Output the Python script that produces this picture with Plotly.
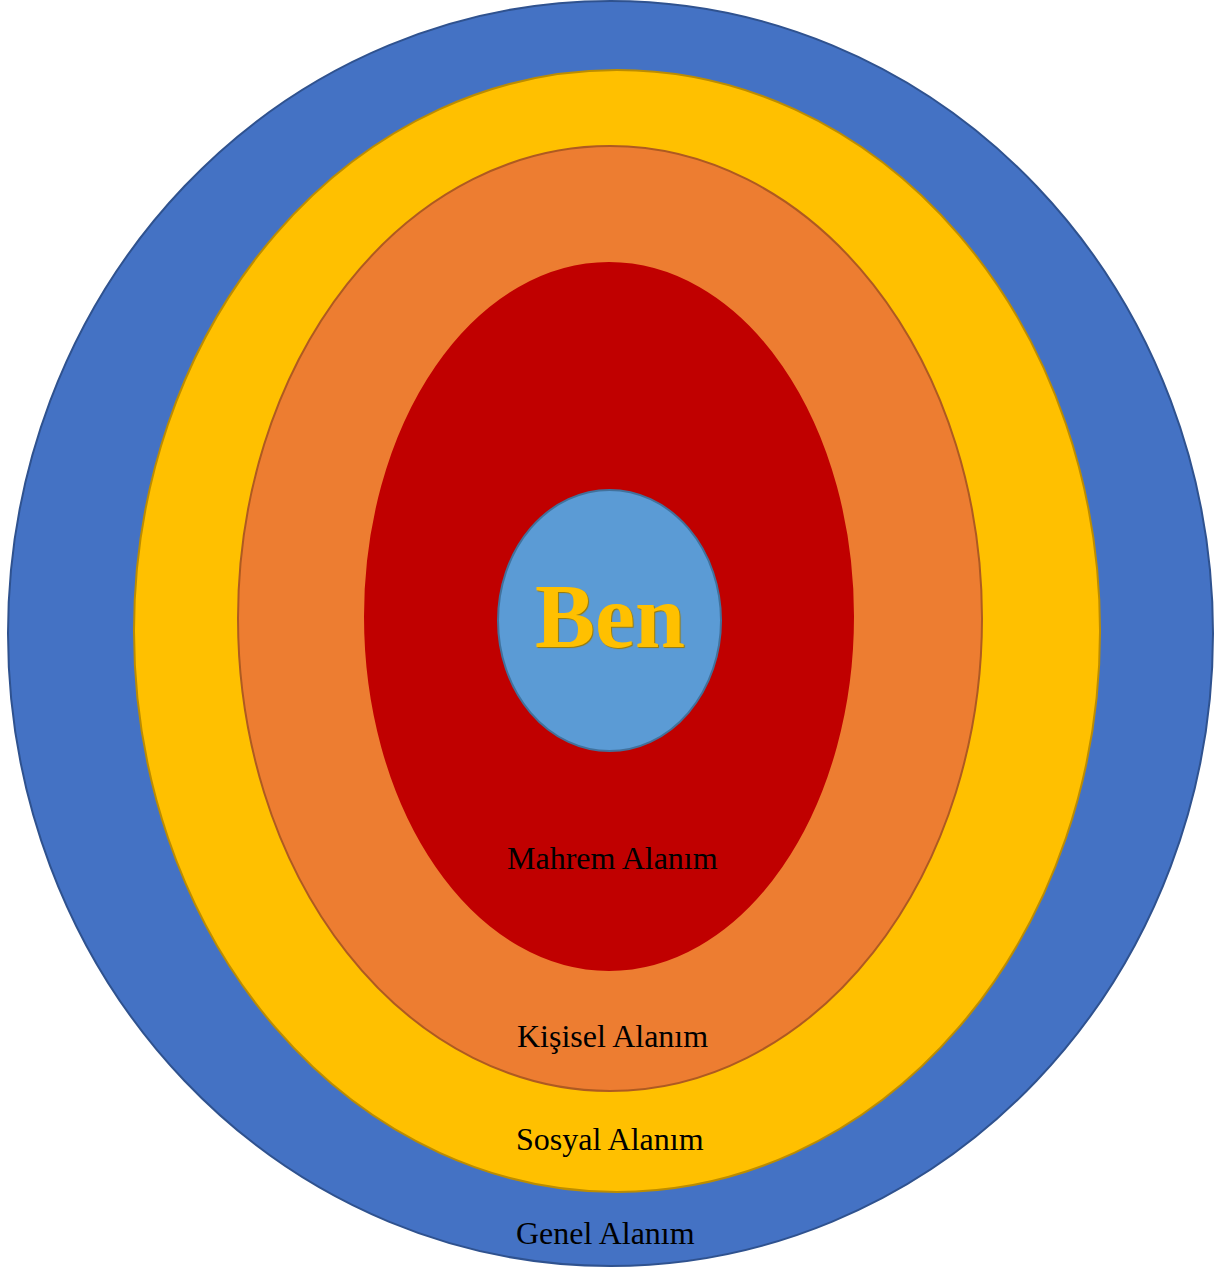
import plotly.graph_objects as go

# Zones from outermost to innermost
zones = ["Genel Alanım", "Sosyal Alanım", "Kişisel Alanım", "Mahrem Alanım", "Ben"]
# ellipse extents (diagram units)
zone_x0 = [8, 134, 238, 365, 498]
zone_x1 = [1213, 1100, 982, 853, 721]
zone_y0 = [1, 70, 146, 263, 490]
zone_y1 = [1266, 1192, 1091, 970, 751]
zone_fill = ["#4472C4", "#FFC000", "#ED7D31", "#C00000", "#5B9BD5"]
zone_line = ["#2F528F", "#BC8C00", "#AE5A21", "#C00000", "#41719C"]

# label positions (diagram units)
label_names = ["Genel Alanım", "Sosyal Alanım", "Kişisel Alanım", "Mahrem Alanım"]
label_x = [605, 610, 612, 612]
label_y = [1233, 1139, 1036, 858]
center_label = "Ben"
center_x = 610
center_y = 616

fig = go.Figure()
fig.add_trace(go.Scatter(x=[0, 1221], y=[0, 1268], mode="markers",
                         marker=dict(opacity=0), hoverinfo="skip", showlegend=False))

for i in range(len(zones)):
    fig.add_shape(type="circle", xref="x", yref="y",
                  x0=zone_x0[i], x1=zone_x1[i], y0=zone_y0[i], y1=zone_y1[i],
                  fillcolor=zone_fill[i], line=dict(color=zone_line[i], width=2),
                  layer="above")

for name, x, y in zip(label_names, label_x, label_y):
    fig.add_annotation(x=x, y=y, text=name, showarrow=False, xref="x", yref="y",
                       font=dict(family="Liberation Serif, Times New Roman, serif",
                                 size=32, color="#000000"),
                       xanchor="center", yanchor="middle")

fig.add_annotation(x=center_x, y=center_y, text="<b>" + center_label + "</b>",
                   showarrow=False, xref="x", yref="y",
                   font=dict(family="Liberation Serif, Times New Roman, serif",
                             size=90, color="#FFC000",
                             shadow="1px 1px 1px #9C7A00"),
                   xanchor="center", yanchor="middle")

fig.update_xaxes(range=[0, 1221], visible=False, fixedrange=True)
fig.update_yaxes(range=[1268, 0], visible=False, fixedrange=True)
fig.update_layout(width=1221, height=1268, margin=dict(l=0, r=0, t=0, b=0),
                  paper_bgcolor="white", plot_bgcolor="white", showlegend=False)

fig.write_html("out.html", config={"displayModeBar": False},
               post_script="document.body.style.margin='0px';document.body.style.overflow='hidden';")
